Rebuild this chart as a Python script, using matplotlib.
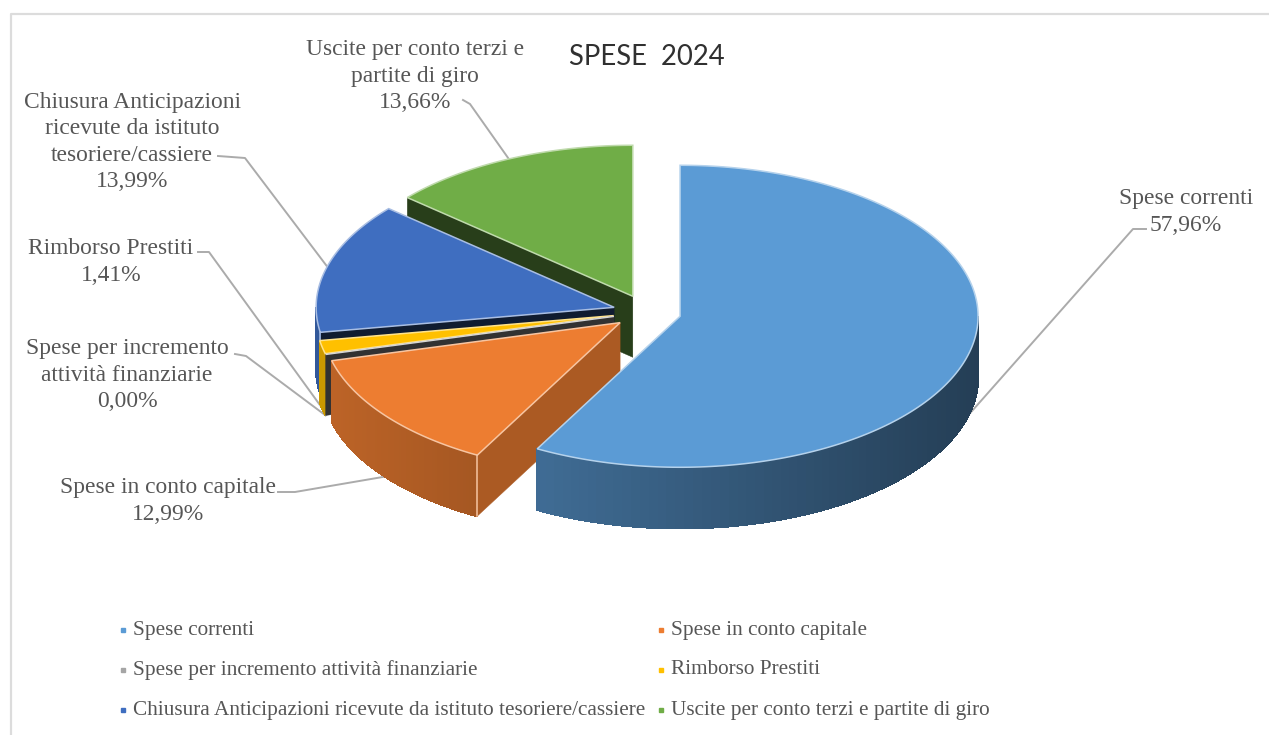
import matplotlib
matplotlib.use('Agg')
import matplotlib.pyplot as plt
import numpy as np

# Ripartizione delle spese 2024 (%)
categories = ['Spese correnti', 'Spese in conto capitale',
              'Spese per incremento attività finanziarie', 'Rimborso Prestiti',
              'Chiusura Anticipazioni ricevute da istituto tesoriere/cassiere',
              'Uscite per conto terzi e partite di giro']
values = [57.96, 12.99, 0.00, 1.41, 13.99, 13.66]
value_labels = ['57,96%', '12,99%', '0,00%', '1,41%', '13,99%', '13,66%']

colors = ['#5B9BD5', '#ED7D31', '#A5A5A5', '#FFC000', '#3F6EC0', '#70AD47']
cut_shade = [0.6, 0.72, 0.3, 0.6, 0.25, 0.36]
TEXT = '#565656'
LEADER = '#ABABAB'
SERIF = 'Liberation Serif'

# geometria della torta in pixel
CX, CY = 647, 312
RX, RY = 298, 151
DEPTH = 61
EXPLODE = 0.1145


def shade(color, f):
    return tuple(c * f for c in matplotlib.colors.to_rgb(color))


def rim(t, center, z=0):
    # t in gradi, da ore 12 in senso orario
    a = np.radians(t)
    return center[0] + RX * np.sin(a), center[1] - RY * np.cos(a) + z


fig = plt.figure(figsize=(12.69, 7.35), dpi=100)
ax = fig.add_axes([0, 0, 1, 1])
ax.set_xlim(0, 1269)
ax.set_ylim(735, 0)
ax.axis('off')

# cornice del grafico
ax.plot([11, 11, 1269], [735, 14, 14], color='#DCDCDC', lw=1.6)

edges = np.cumsum([0] + values) * 360 / sum(values)
starts, ends = edges[:-1], edges[1:]
mids = (starts + ends) / 2
centers = [rim(m, (CX, CY)) for m in mids]
centers = [(CX + (x - CX) * EXPLODE, CY + (y - CY) * EXPLODE) for x, y in centers]

# dalla fetta piu lontana alla piu vicina
for i in range(len(values) - 1, -1, -1):
    c = centers[i]
    col = colors[i]
    pale = tuple(0.55 + 0.45 * v for v in matplotlib.colors.to_rgb(col))

    # facce di taglio rivolte verso chi guarda
    for t, normal in ((starts[i], starts[i] - 90), (ends[i], ends[i] + 90)):
        if np.cos(np.radians(normal)) < 0:
            x, y = rim(t, c)
            ax.fill([c[0], x, x, c[0]], [c[1], y, y + DEPTH, c[1] + DEPTH],
                    color=shade(col, cut_shade[i]), lw=0.3, zorder=i * -10 + 1)

    # bordo esterno con sfumatura
    lo, hi = max(starts[i], 90), min(ends[i], 270)
    if hi > lo:
        ts = np.linspace(lo, hi, 70)
        for a, b in zip(ts[:-1], ts[1:]):
            f = 0.6 - 0.2 * np.sin(np.radians((a + b) / 2))
            xa, ya = rim(a, c)
            xb, yb = rim(b, c)
            ax.fill([xa, xb, xb, xa], [ya, yb, yb + DEPTH, ya + DEPTH],
                    color=shade(col, f), lw=1, antialiased=False, zorder=i * -10 + 2)

    # faccia superiore
    ts = np.linspace(starts[i], ends[i], 200)
    px, py = rim(ts, c)
    ax.fill(np.r_[c[0], px], np.r_[c[1], py], facecolor=col, edgecolor=pale,
            lw=1.1, zorder=i * -10 + 3)

    # spigolo chiaro tra taglio e bordo
    if 90 < starts[i] < 270 and values[i] > 5:
        x, y = rim(starts[i], c)
        ax.plot([x, x], [y, y + DEPTH], color=pale, lw=1.1, zorder=i * -10 + 4)

ax.text(647, 57, 'SPESE  2024', family='Lato', fontsize=19.8, color='#303030',
        ha='center', va='center')

# etichette con linee guida
label_text = ['Spese correnti', 'Spese in conto capitale',
              'Spese per incremento\nattività finanziarie', 'Rimborso Prestiti',
              'Chiusura Anticipazioni\nricevute da istituto\ntesoriere/cassiere',
              'Uscite per conto terzi e\npartite di giro']
label_pos = [(1186, 212), (168, 501), (127, 375), (111, 262), (132, 142), (415, 76)]
leader_start = [(1146, 229), (278, 492), (235, 354), (198, 252), (218, 156), (463, 100)]
leader_elbow = [(1133, 229), (295, 492), (246, 356), (209, 252), (245, 158), (470, 104)]

for i in range(len(values)):
    m = mids[i]
    z = DEPTH if np.cos(np.radians(m)) < 0 else 0
    ex, ey = rim(m, centers[i], z)
    ax.plot([leader_start[i][0], leader_elbow[i][0], ex],
            [leader_start[i][1], leader_elbow[i][1], ey],
            color=LEADER, lw=1.4, zorder=-100)
    ax.text(label_pos[i][0], label_pos[i][1], label_text[i] + '\n' + value_labels[i],
            family=SERIF, fontsize=16.9, color=TEXT, ha='center', va='center',
            linespacing=1.33)

# legenda su due colonne
legend_x = [123, 661]
legend_y = [630, 670, 710]
for i, name in enumerate(categories):
    lx = legend_x[i % 2]
    ly = legend_y[i // 2]
    ax.plot(lx, ly, 's', color=colors[i], ms=3.5)
    ax.text(lx + 10, ly, name, family=SERIF, fontsize=15.3, color=TEXT,
            ha='left', va='center')

fig.savefig('out.png', dpi=100)
